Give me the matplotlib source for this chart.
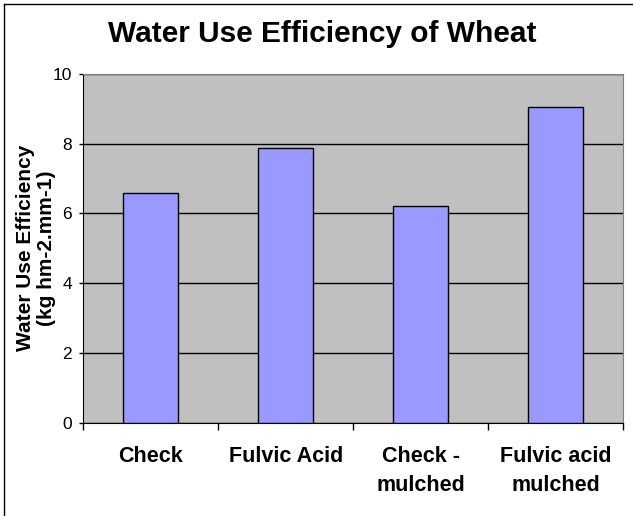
import matplotlib.pyplot as plt
from matplotlib.lines import Line2D

plt.rcParams['font.family'] = ['Liberation Sans', 'DejaVu Sans']

# datos
categorias = ["Check", "Fulvic Acid", "Check -\nmulched", "Fulvic acid\nmulched"]
eficiencia = [6.58, 7.87, 6.21, 9.06]
ticks_y = [0, 2, 4, 6, 8, 10]

W, H = 633, 516
fig = plt.figure(figsize=(W / 100, H / 100), dpi=100)
# area del grafico en pixeles: x 83..623, y 74..423
ax = fig.add_axes([83.3 / W, 1 - 422.7 / H, (623.3 - 83.3) / W, (422.7 - 74) / H])

ax.set_facecolor("#C0C0C0")
x = list(range(len(categorias)))
ax.bar(x, eficiencia, width=0.407, color="#9999FF", edgecolor="black", linewidth=1, zorder=3)

ax.set_xlim(-0.5, len(categorias) - 0.5)
ax.set_ylim(0, 10)
ax.set_yticks(ticks_y)
ax.tick_params(axis="y", direction="out", length=3, width=1, labelsize=12.5, pad=5)
ax.grid(axis="y", color="black", linewidth=1, zorder=1)

# ticks del eje x en los limites de cada categoria, etiquetas centradas
ax.set_xticks([i - 0.5 for i in range(len(categorias) + 1)])
ax.set_xticklabels([])
ax.set_xticks(x, minor=True)
ax.set_xticklabels(categorias, minor=True, fontsize=15.5, fontweight="bold", linespacing=1.5)
ax.tick_params(axis="x", which="major", direction="out", length=5, width=1)
ax.tick_params(axis="x", which="minor", length=0, pad=17)

for lado in ["left", "bottom"]:
    ax.spines[lado].set_color("black")
for lado in ["top", "right"]:
    ax.spines[lado].set_color("#808080")

# titulo del eje y, centrado en el area del grafico
fig.text(36 / W, 1 - 248.3 / H, "Water Use Efficiency\n(kg hm-2.mm-1)", rotation=90,
         ha="center", va="center", fontsize=15, fontweight="bold", linespacing=1.15)

fig.text(322.5 / W, 1 - 34 / H, "Water Use Efficiency of Wheat", ha="center", va="center",
         fontsize=21.5, fontweight="bold")

# borde del grafico (solo se ven arriba e izquierda)
fig.add_artist(Line2D([3.5 / W, 3.5 / W], [0, 1 - 3.5 / H], transform=fig.transFigure,
                      color="black", linewidth=1))
fig.add_artist(Line2D([3.5 / W, 1], [1 - 3.5 / H, 1 - 3.5 / H], transform=fig.transFigure,
                      color="black", linewidth=1))

plt.savefig("out.png", dpi=100)
